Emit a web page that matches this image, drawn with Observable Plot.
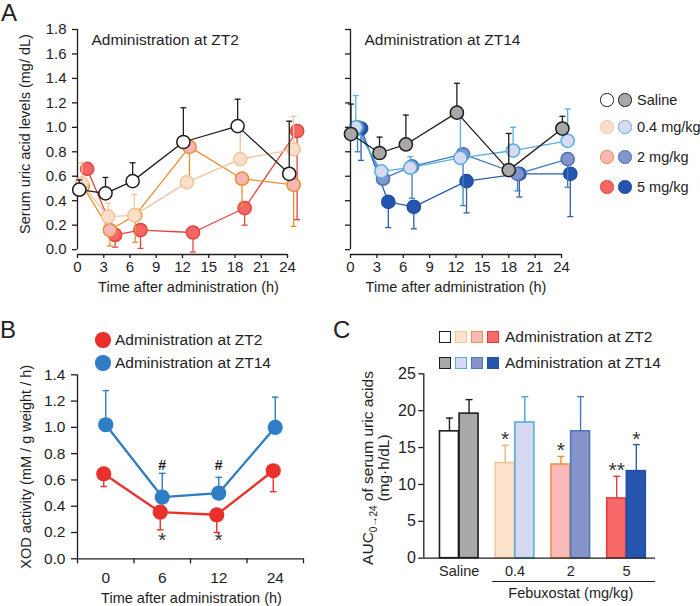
<!DOCTYPE html>
<html><head><meta charset="utf-8">
<script src="https://cdn.jsdelivr.net/npm/d3@7"></script>
<script src="https://cdn.jsdelivr.net/npm/@observablehq/plot@0.6"></script>
<style>
body{margin:0;background:#fff;}
#root{position:relative;width:700px;height:606px;overflow:hidden;font-family:"Liberation Sans",Arial,Helvetica,sans-serif;color:#222;background:#fff;}
#root > *{position:absolute;}
.t{white-space:nowrap;}
</style></head><body><div id="root"></div>
<script>
const FONT = '"Liberation Sans", Arial, Helvetica, sans-serif';
const root = document.getElementById("root");

// ================= DATA =================
// Panel A: serum uric acid (mg/dL) vs time after administration (h)
const doseNames = ["Saline", "0.4 mg/kg", "2 mg/kg", "5 mg/kg"];
const xTicksA = [0, 3, 6, 9, 12, 15, 18, 21, 24];
const yTicksA = [0, 0.2, 0.4, 0.6, 0.8, 1.0, 1.2, 1.4, 1.6, 1.8];
const titleZT2 = "Administration at ZT2";
const titleZT14 = "Administration at ZT14";
const xLabelTime = "Time after administration (h)";
const yLabelA = "Serum uric acid levels (mg/ dL)";

// ZT2 series (time, mean, error-bar end)
const zt2SalineT = [0.2, 3.2, 6.3, 12.1, 18.3, 24.2];
const zt2SalineV = [0.49, 0.46, 0.56, 0.88, 1.01, 0.62];
const zt2SalineE = [0.57, 0.59, 0.71, 1.16, 1.23, 1.05];
const zt2Dose04T = [0.5, 3.5, 6.5, 12.5, 18.6, 24.7];
const zt2Dose04V = [0.54, 0.27, 0.28, 0.55, 0.74, 0.82];
const zt2Dose04E = [0.71, 0.38, 0.45, null, 0.97, 1.09];
const zt2Dose2T = [0.6, 3.7, 6.6, 12.8, 18.8, 24.7];
const zt2Dose2V = [0.52, 0.16, 0.28, 0.84, 0.58, 0.53];
const zt2Dose2E = [null, 0.03, 0.06, 0.55, 0.36, 0.19];
const zt2Dose5T = [1.1, 4.3, 7.2, 13.2, 19.1, 25.1];
const zt2Dose5V = [0.66, 0.12, 0.16, 0.14, 0.34, 0.97];
const zt2Dose5E = [null, 0.02, 0.01, -0.02, 0.20, 0.245];

// ZT14 series
const zt14SalineT = [0.05, 3.3, 6.3, 12.1, 18.0, 24.1];
const zt14SalineV = [0.945, 0.79, 0.86, 1.12, 0.65, 0.99];
const zt14SalineE = [1.19, 0.92, 1.10, 1.36, 0.95, 1.09];
const zt14Dose04T = [0.6, 3.5, 6.8, 12.5, 18.5, 24.7];
const zt14Dose04V = [1.0, 0.64, 0.67, 0.75, 0.81, 0.89];
const zt14Dose04E = [1.26, null, 0.76, 1.08, 1.0, 1.15];
const zt14Dose2T = [0.8, 3.7, 7.0, 12.8, 19.0, 24.7];
const zt14Dose2V = [1.0, 0.58, 0.68, 0.78, 0.62, 0.74];
const zt14Dose2E = [0.80, null, 0.42, 0.36, 0.48, 0.51];
const zt14Dose5T = [1.2, 4.3, 7.2, 13.2, 19.2, 25.0];
const zt14Dose5V = [0.99, 0.39, 0.35, 0.56, 0.62, 0.62];
const zt14Dose5E = [0.73, 0.18, 0.17, 0.30, 0.43, 0.27];

// Panel B: XOD activity
const timeCatsB = ["0", "6", "12", "24"];
const yTicksB = [0, 0.2, 0.4, 0.6, 0.8, 1.0, 1.2, 1.4];
const xodZT2 = [0.647, 0.355, 0.335, 0.67];
const xodZT2E = [0.55, 0.22, 0.20, 0.51];
const xodZT14 = [1.02, 0.47, 0.50, 1.00];
const xodZT14E = [1.28, 0.65, 0.62, 1.23];
const hashB = [{time: "6", y: 0.71, label: "#"}, {time: "12", y: 0.71, label: "#"}];
const starB = [{time: "6", y: 0.18, label: "*"}, {time: "12", y: 0.18, label: "*"}];
const yLabelB = "XOD activity (mM / g weight / h)";

// Panel C: AUC
const groupsC = ["Saline", "0.4", "2", "5"];
const yTicksC = [0, 5, 10, 15, 20, 25];
const aucZT2 = [17.2, 12.9, 12.7, 8.1];
const aucZT2E = [19.0, 15.3, 13.8, 11.1];
const aucZT14 = [19.6, 18.4, 17.2, 11.8];
const aucZT14E = [21.5, 21.9, 21.9, 15.4];
const starsC = [
  {group: "0.4", series: "ZT2", label: "*"},
  {group: "2", series: "ZT2", label: "*"},
  {group: "5", series: "ZT2", label: "**"},
  {group: "5", series: "ZT14", label: "*"}
];
const febLabel = "Febuxostat (mg/kg)";

// ================= STYLES =================
const stA = {
  ZT2: {
    "Saline":    {line: "#1e1e1e", fill: "#ffffff", stroke: "#1e1e1e"},
    "0.4 mg/kg": {line: "#f4c49c", fill: "#fcdfc9", stroke: "#f4c49c"},
    "2 mg/kg":   {line: "#e98f2e", fill: "#f8b6b8", stroke: "#e98f2e"},
    "5 mg/kg":   {line: "#e2453d", fill: "#f66664", stroke: "#e2453d"}
  },
  ZT14: {
    "Saline":    {line: "#1e1e1e", fill: "#a8a8a8", stroke: "#1e1e1e"},
    "0.4 mg/kg": {line: "#58b0e2", fill: "#d7daf0", stroke: "#58b0e2"},
    "2 mg/kg":   {line: "#3d7dbf", fill: "#8494cc", stroke: "#4a72b6"},
    "5 mg/kg":   {line: "#2b5cae", fill: "#2356b0", stroke: "#224ea2"}
  }
};
const barStyleC = {
  ZT2: [
    {fill: "#ffffff", stroke: "#1e1e1e", err: "#1e1e1e"},
    {fill: "#fde3cc", stroke: "#f4c69c", err: "#f2b47a"},
    {fill: "#f9b9bb", stroke: "#ec9443", err: "#e98f2e"},
    {fill: "#f76a69", stroke: "#e63d3a", err: "#e63d3a"}
  ],
  ZT14: [
    {fill: "#a9a9a9", stroke: "#1e1e1e", err: "#1e1e1e"},
    {fill: "#d6d9ef", stroke: "#56acdf", err: "#4aa3dc"},
    {fill: "#8595cc", stroke: "#4e77b9", err: "#3f79bd"},
    {fill: "#2456ae", stroke: "#2350a6", err: "#2a5cb0"}
  ]
};
const RED = "#e9302a", BLUE = "#2e7dc5";

// ================= HELPERS =================
const cap = {draw(ctx, size) { const r = Math.sqrt(size / Math.PI); ctx.moveTo(-r, 0); ctx.lineTo(r, 0); }};
function rows(t, v, e) { return t.map((ti, i) => ({t: ti, v: v[i], e: e[i]})); }
function seriesMarks(data, st, o) {
  const withErr = data.filter(d => d.e != null);
  return [
    Plot.line(data, {x: "t", y: "v", stroke: st.line, strokeWidth: o.lw}),
    Plot.ruleX(withErr, {x: "t", y1: "v", y2: "e", stroke: st.line, strokeWidth: o.lw}),
    Plot.dot(withErr, {x: "t", y: "e", symbol: cap, r: o.cap, stroke: st.line, strokeWidth: o.lw, fill: "none"}),
    Plot.dot(data, {x: "t", y: "v", r: o.r, fill: st.fill, stroke: st.stroke, strokeWidth: o.sw})
  ];
}
function place(node, left, top) { node.style.position = "absolute"; node.style.left = left + "px"; node.style.top = top + "px"; root.appendChild(node); return node; }
function textAt(str, x, baseline, size, opts = {}) {
  const d = document.createElement("div");
  d.className = "t";
  d.innerHTML = str;
  d.style.fontSize = size + "px";
  d.style.lineHeight = size + "px";
  if (opts.weight) d.style.fontWeight = opts.weight;
  place(d, x, baseline - 0.8465 * size);
  return d;
}
function circle(cx, cy, r, fill, stroke, sw) {
  const d = document.createElement("div");
  d.style.width = (2 * r) + "px"; d.style.height = (2 * r) + "px";
  d.style.boxSizing = "border-box"; d.style.borderRadius = "50%";
  d.style.background = fill; d.style.border = sw ? `${sw}px solid ${stroke}` : "none";
  place(d, cx - r, cy - r);
}
function square(x, cy, s, fill, stroke) {
  const d = document.createElement("div");
  d.style.width = s + "px"; d.style.height = s + "px"; d.style.boxSizing = "border-box";
  d.style.background = fill; d.style.border = `1.6px solid ${stroke}`;
  place(d, x, cy - s / 2);
}
const baseStyle = (fs) => ({fontFamily: FONT, fontSize: fs + "px", color: "#1e1e1e", background: "transparent", overflow: "visible"});

// ================= PANEL A =================
const yMinA = -0.04;
const optsA = {lw: 1.3, cap: 3, r: 6.6, sw: 1.5};
function panelA(key, seriesList, showY, title, width, ml, mr, dxLabel) {
  const marks = [
    Plot.ruleX([0], {y1: 0, y2: 1.8, strokeWidth: 1.3}),
    Plot.ruleY([yMinA], {x1: 0, x2: 24, strokeWidth: 1.3}),
    Plot.axisY({ticks: yTicksA, tickSize: 5, tickPadding: 6, tickFormat: showY ? d3.format(".1f") : () => "", label: null, strokeWidth: 1.3, fontSize: 15}),
    Plot.axisX({ticks: xTicksA, tickSize: 4, tickPadding: 3, label: null, strokeWidth: 1.3, fontSize: 15}),
    Plot.text([title], {frameAnchor: "top-left", dx: 14, dy: 15, textAnchor: "start", lineAnchor: "bottom", fontSize: 15.5, text: d => d}),
    Plot.text([xLabelTime], {frameAnchor: "bottom", dx: dxLabel, dy: 37, textAnchor: "middle", lineAnchor: "bottom", fontSize: 14.5, text: d => d})
  ];
  if (showY) marks.push(Plot.text([yLabelA], {frameAnchor: "left", rotate: -90, dx: -48, dy: -8, textAnchor: "middle", lineAnchor: "bottom", fontSize: 14.5, text: d => d}));
  // draw order: 5 mg/kg at bottom ... saline on top
  for (let i = seriesList.length - 1; i >= 0; i--) marks.push(...seriesMarks(seriesList[i], stA[key][doseNames[i]], optsA));
  return Plot.plot({
    width, height: 300, marginLeft: ml, marginRight: mr, marginTop: 29, marginBottom: 46,
    x: {domain: [0, 24]}, y: {domain: [yMinA, 1.8]},
    style: baseStyle(15), marks
  });
}
const a1 = panelA("ZT2", [rows(zt2SalineT, zt2SalineV, zt2SalineE), rows(zt2Dose04T, zt2Dose04V, zt2Dose04E), rows(zt2Dose2T, zt2Dose2V, zt2Dose2E), rows(zt2Dose5T, zt2Dose5V, zt2Dose5E)], true, titleZT2, 330, 77, 43, 6);
place(a1, 0, 0);
const a2 = panelA("ZT14", [rows(zt14SalineT, zt14SalineV, zt14SalineE), rows(zt14Dose04T, zt14Dose04V, zt14Dose04E), rows(zt14Dose2T, zt14Dose2V, zt14Dose2E), rows(zt14Dose5T, zt14Dose5V, zt14Dose5E)], false, titleZT14, 250, 20, 19, 0);
place(a2, 330, 0);

// Legend A
const legRowsA = [100, 127, 157, 187];
doseNames.forEach((name, i) => {
  const s2 = stA.ZT2[name], s14 = stA.ZT14[name];
  circle(607, legRowsA[i], 6.6, s2.fill, s2.stroke, 1.5);
  circle(625, legRowsA[i], 6.6, s14.fill, s14.stroke, 1.5);
  textAt(name, 637, legRowsA[i] + 5.2, 14.5);
});

// ================= PANEL B =================
const xB = d => timeCatsB.indexOf(d.time) + 0.5;
const bZT2 = timeCatsB.map((c, i) => ({time: c, v: xodZT2[i], e: xodZT2E[i]}));
const bZT14 = timeCatsB.map((c, i) => ({time: c, v: xodZT14[i], e: xodZT14E[i]}));
function bSeries(data, color, dx) {
  return [
    Plot.line(data, {x: xB, y: "v", stroke: color, strokeWidth: 2.3, dx}),
    Plot.ruleX(data, {x: xB, y1: "v", y2: "e", stroke: color, strokeWidth: 1.4, dx}),
    Plot.dot(data, {x: xB, y: "e", symbol: cap, r: 3.3, stroke: color, strokeWidth: 1.4, fill: "none", dx}),
    Plot.dot(data, {x: xB, y: "v", r: 7.6, fill: color, stroke: color, strokeWidth: 0, dx})
  ];
}
const b = Plot.plot({
  width: 330, height: 286, marginLeft: 77, marginRight: 27, marginTop: 54.3, marginBottom: 47.7,
  x: {domain: [0, timeCatsB.length]}, y: {domain: [0, 1.4]},
  style: baseStyle(15.5),
  marks: [
    Plot.ruleX([0], {y1: 0, y2: 1.4, strokeWidth: 1.3}),
    Plot.ruleY([0], {x1: 0, x2: timeCatsB.length, strokeWidth: 1.3}),
    Plot.axisY({ticks: yTicksB, tickSize: 6, tickPadding: 6, tickFormat: d3.format(".1f"), label: null, strokeWidth: 1.3, fontSize: 15.5}),
    Plot.axisX({ticks: d3.range(timeCatsB.length + 1), tickSize: 5, tickFormat: () => "", label: null, strokeWidth: 1.3}),
    Plot.axisX({ticks: timeCatsB.map((c, i) => i + 0.5), tickSize: 0, tickPadding: 13, tickFormat: v => timeCatsB[Math.floor(v)], label: null, fontSize: 15.5}),
    Plot.text([xLabelTime], {frameAnchor: "bottom", dx: 1, dy: 43.7, textAnchor: "middle", lineAnchor: "bottom", fontSize: 14.5, text: d => d}),
    Plot.text([yLabelB], {frameAnchor: "left", rotate: -90, dx: -47, dy: 0, textAnchor: "middle", lineAnchor: "bottom", fontSize: 14.5, text: d => d}),
    ...bSeries(bZT2, RED, -2),
    ...bSeries(bZT14, BLUE, 0),
    Plot.text(hashB, {x: xB, y: "y", text: "label", fontSize: 14, fontWeight: "bold", lineAnchor: "middle", fill: "#1e1e1e"}),
    Plot.text(starB, {x: xB, y: "y", text: "label", fontSize: 20, lineAnchor: "bottom", dy: 11.5, fill: "#333"})
  ]
});
place(b, 0, 320);
// Legend B
circle(103, 340, 7.6, RED, RED, 0);
textAt("Administration at ZT2", 115, 340 + 5.5, 15.5);
circle(103, 363, 7.6, BLUE, BLUE, 0);
textAt("Administration at ZT14", 115, 363 + 5.5, 15.5);

// ================= PANEL C =================
const xDomainC = [-0.636, 3.52];
const barW = 0.34, gapC = 0.006;
const cRows = [];
groupsC.forEach((g, i) => {
  cRows.push({group: g, gi: i, series: "ZT2", v: aucZT2[i], e: aucZT2E[i], ...barStyleC.ZT2[i]});
  cRows.push({group: g, gi: i, series: "ZT14", v: aucZT14[i], e: aucZT14E[i], ...barStyleC.ZT14[i]});
});
const x1C = d => d.series === "ZT2" ? d.gi - gapC - barW : d.gi + gapC;
const x2C = d => d.series === "ZT2" ? d.gi - gapC : d.gi + gapC + barW;
const xcC = d => (x1C(d) + x2C(d)) / 2;
const starRowsC = starsC.map(s => cRows.find(r => r.group === s.group && r.series === s.series)).map((r, i) => ({...r, label: starsC[i].label}));
const c = Plot.plot({
  width: 360, height: 286, marginLeft: 83.3, marginRight: 45, marginTop: 53.3, marginBottom: 48.3,
  x: {domain: xDomainC}, y: {domain: [0, 25]}, color: {type: "identity"},
  style: baseStyle(15.5),
  marks: [
    Plot.rect(cRows, {x1: x1C, x2: x2C, y1: 0, y2: "v", fill: "fill", stroke: "stroke", strokeWidth: 1.6}),
    Plot.ruleX(cRows, {x: xcC, y1: "v", y2: "e", stroke: "err", strokeWidth: 1.4}),
    Plot.dot(cRows, {x: xcC, y: "e", symbol: cap, r: 3.5, stroke: "err", strokeWidth: 1.4, fill: "none"}),
    Plot.ruleX([xDomainC[0]], {y1: 0, y2: 25, strokeWidth: 1.3}),
    Plot.ruleY([0], {strokeWidth: 1.3}),
    Plot.axisY({ticks: yTicksC, tickSize: 5, tickPadding: 3, label: null, strokeWidth: 1.3, fontSize: 16}),
    Plot.axisX({ticks: d3.range(groupsC.length), tickSize: 0, tickPadding: 8, tickFormat: i => groupsC[i], label: null, fontSize: 14.5}),
    Plot.ruleY([0], {x1: 1 - 0.4, x2: xDomainC[1], dy: 23.3, strokeWidth: 1.2}),
    Plot.text([febLabel], {x: 2, y: 0, dy: 39.5, lineAnchor: "bottom", fontSize: 14.5, text: d => d}),
    Plot.text(starRowsC, {x: xcC, y: "e", text: "label", fontSize: 21, lineAnchor: "bottom", dy: 1, fill: "#333"})
  ]
});
place(c, 340, 320);
// Legend C
[0, 1, 2, 3].forEach(i => {
  square(439 + 16 * i, 337, 12, barStyleC.ZT2[i].fill, barStyleC.ZT2[i].stroke);
  square(439 + 16 * i, 363, 12, barStyleC.ZT14[i].fill, barStyleC.ZT14[i].stroke);
});
textAt("Administration at ZT2", 505, 337 + 5.5, 15.5);
textAt("Administration at ZT14", 505, 363 + 5.5, 15.5);
// C y label (with subscript)
const yc = document.createElement("div");
yc.className = "t";
yc.innerHTML = 'AUC<sub style="font-size:10px;line-height:0">0→24</sub> of serum uric acids<br>(mg·h/dL)';
yc.style.cssText += "font-size:15.5px;line-height:16px;text-align:center;transform:translate(-50%,-50%) rotate(-90deg);";
place(yc, 376, 468);

// Panel letters
textAt("A", 1, 21.5, 24);
textAt("B", 0, 338, 24);
textAt("C", 333, 338, 24);
</script></body></html>
